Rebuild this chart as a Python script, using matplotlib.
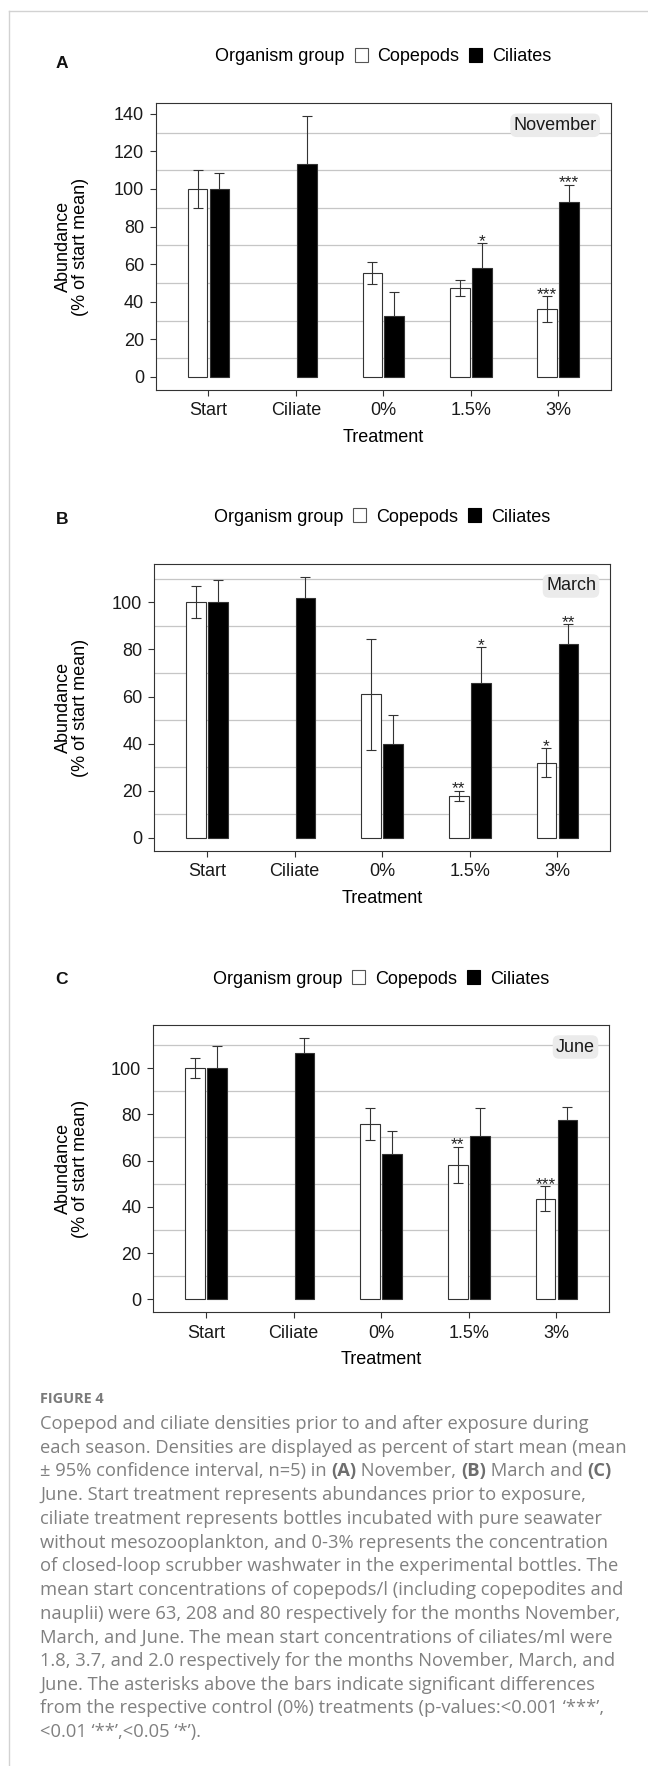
import numpy as np
import matplotlib
matplotlib.use("Agg")
import matplotlib.pyplot as plt
from matplotlib.patches import Patch
from matplotlib.lines import Line2D
from matplotlib.offsetbox import HPacker

# ---------------- data ----------------
treatments = ["Start", "Ciliate", "0%", "1.5%", "3%"]
groups = ["Copepods", "Ciliates"]
months = ["November", "March", "June"]
panel_tags = ["A", "B", "C"]

nan = np.nan
# November
cop_nov = [100.0, nan, 55.2, 47.4, 36.1]
cop_nov_ci = [10.3, nan, 5.8, 4.4, 6.7]
cil_nov = [100.0, 113.1, 32.5, 58.0, 92.8]
cil_nov_ci = [8.2, 25.5, 12.8, 13.1, 9.5]
cop_nov_sig = ["", "", "", "", "***"]
cil_nov_sig = ["", "", "", "*", "***"]
# March
cop_mar = [100.0, nan, 61.0, 17.7, 31.9]
cop_mar_ci = [6.7, nan, 23.6, 2.2, 6.1]
cil_mar = [100.0, 101.7, 39.8, 65.7, 82.4]
cil_mar_ci = [9.6, 9.0, 12.4, 15.2, 8.2]
cop_mar_sig = ["", "", "", "**", "*"]
cil_mar_sig = ["", "", "", "*", "**"]
# June
cop_jun = [100.0, nan, 75.7, 58.1, 43.5]
cop_jun_ci = [4.3, nan, 6.9, 7.9, 5.4]
cil_jun = [100.0, 106.6, 62.8, 70.8, 77.6]
cil_jun_ci = [9.5, 6.4, 10.0, 12.0, 5.7]
cop_jun_sig = ["", "", "", "**", "***"]
cil_jun_sig = ["", "", "", "", ""]

yticks_nov = [0, 20, 40, 60, 80, 100, 120, 140]
yticks_mar = [0, 20, 40, 60, 80, 100]
yticks_jun = [0, 20, 40, 60, 80, 100]

caption_title = "FIGURE 4"
caption_lines = [
    [("Copepod and ciliate densities prior to and after exposure during", "normal")],
    [("each season. Densities are displayed as percent of start mean (mean", "normal")],
    [("\u00b1 95% confidence interval, n=5) in ", "normal"), ("(A)", "bold"),
     (" November, ", "normal"), ("(B)", "bold"), (" March and ", "normal"), ("(C)", "bold")],
    [("June. Start treatment represents abundances prior to exposure,", "normal")],
    [("ciliate treatment represents bottles incubated with pure seawater", "normal")],
    [("without mesozooplankton, and 0-3% represents the concentration", "normal")],
    [("of closed-loop scrubber washwater in the experimental bottles. The", "normal")],
    [("mean start concentrations of copepods/l (including copepodites and", "normal")],
    [("nauplii) were 63, 208 and 80 respectively for the months November,", "normal")],
    [("March, and June. The mean start concentrations of ciliates/ml were", "normal")],
    [("1.8, 3.7, and 2.0 respectively for the months November, March, and", "normal")],
    [("June. The asterisks above the bars indicate significant differences", "normal")],
    [("from the respective control (0%) treatments (p-values:<0.001 \u2018***\u2019,", "normal")],
    [("<0.01 \u2018**\u2019,<0.05 \u2018*\u2019).", "normal")],
]

# ---------------- style / layout ----------------
plt.rcParams['font.family'] = ['Liberation Sans', 'DejaVu Sans']
W, H = 648, 1766
fig = plt.figure(figsize=(W / 100, H / 100), dpi=100)
renderer = fig.canvas.get_renderer()

def fx(px):
    return px / W

def fy(py):
    return 1 - py / H

DARK = "#333333"
GRID = "#c6c6c6"
FS = 13

panel_data = [
    (cop_nov, cop_nov_ci, cil_nov, cil_nov_ci, cop_nov_sig, cil_nov_sig, yticks_nov),
    (cop_mar, cop_mar_ci, cil_mar, cil_mar_ci, cop_mar_sig, cil_mar_sig, yticks_mar),
    (cop_jun, cop_jun_ci, cil_jun, cil_jun_ci, cop_jun_sig, cil_jun_sig, yticks_jun),
]
# axes rectangles in pixels: left, top, right, bottom
rects = [(156, 103.3, 610.7, 390.0), (154.3, 564.0, 610.0, 851.0), (153.3, 1025.0, 609.0, 1312.3)]
legend_y = [56.7, 517.0, 979.0]
tag_y = [63.0, 519.0, 979.5]

dodge = 0.125
bw = 0.225

for i, (cop, cop_ci, cil, cil_ci, cop_sig, cil_sig, yt) in enumerate(panel_data):
    l, t, r, b = rects[i]
    ax = fig.add_axes([fx(l), fy(b), (r - l) / W, (b - t) / H])
    cop = np.array(cop); cop_ci = np.array(cop_ci)
    cil = np.array(cil); cil_ci = np.array(cil_ci)
    x = np.arange(1, len(treatments) + 1)

    top = max(np.nanmax(cop + cop_ci), np.nanmax(cil + cil_ci))
    ax.set_ylim(-0.05 * top, 1.05 * top)
    ax.set_xlim(0.4, len(treatments) + 0.6)

    # grid on minor ticks only
    ax.set_yticks(yt)
    ax.set_yticks(np.arange(10, 1.05 * top, 20), minor=True)
    ax.grid(which='minor', axis='y', color=GRID, lw=0.9, zorder=0)
    ax.grid(which='major', visible=False)
    ax.set_axisbelow(True)
    ax.set_xticks(x)
    ax.set_xticklabels(treatments)

    mc = ~np.isnan(cop)
    ax.bar(x[mc] - dodge, cop[mc], width=bw, color='white', edgecolor=DARK,
           linewidth=0.8, zorder=2, label=groups[0])
    ax.errorbar(x[mc] - dodge, cop[mc], yerr=cop_ci[mc], fmt='none', ecolor=DARK,
                elinewidth=0.8, capsize=3.6, capthick=0.8, zorder=3)
    ax.bar(x + dodge, cil, width=bw, color='black', edgecolor=DARK,
           linewidth=0.8, zorder=2, label=groups[1])
    ax.errorbar(x + dodge, cil, yerr=cil_ci, fmt='none', ecolor=DARK,
                elinewidth=0.8, capsize=3.6, capthick=0.8, zorder=1.5)

    for j in range(len(treatments)):
        if cop_sig[j]:
            ax.annotate(cop_sig[j], xy=(x[j] - dodge, cop[j] + cop_ci[j]), xytext=(0, -1.8),
                        textcoords='offset points', ha='center', va='baseline',
                        fontsize=12.5, color='#222222', zorder=4)
        if cil_sig[j]:
            ax.annotate(cil_sig[j], xy=(x[j] + dodge, cil[j] + cil_ci[j]), xytext=(0, -1.8),
                        textcoords='offset points', ha='center', va='baseline',
                        fontsize=12.5, color='#222222', zorder=4)

    for s in ax.spines.values():
        s.set_color(DARK)
        s.set_linewidth(0.8)
    ax.tick_params(axis='both', which='major', length=4.3, width=0.8, color=DARK,
                   labelsize=FS, labelcolor='#1a1a1a')
    ax.tick_params(axis='y', which='major', pad=4.3)
    ax.tick_params(axis='x', which='major', pad=4.5)
    ax.tick_params(which='minor', left=False, bottom=False)

    ax.set_xlabel("Treatment", fontsize=FS, va='center')
    ax.xaxis.set_label_coords(0.5, -47.5 / (b - t))
    ax.set_ylabel("Abundance\n(% of start mean)", fontsize=FS, va='center',
                  ha='center', linespacing=1.0)
    ax.yaxis.set_label_coords((72 - l) / (r - l), 0.5)

    ax.annotate(months[i], xy=(1, 1), xycoords='axes fraction', xytext=(-14, -22),
                textcoords='offset pixels', ha='right', va='center', fontsize=FS,
                color='#1a1a1a', zorder=5,
                bbox=dict(boxstyle='round,pad=0.18,rounding_size=0.35', fc='#ebebeb', ec='none'))

    handles = [Patch(facecolor='white', edgecolor='#555555', linewidth=0.8),
               Patch(facecolor='black', edgecolor='black', linewidth=0.8)]
    leg = ax.legend(handles, groups, title="Organism group", ncol=2, loc='center',
                    bbox_to_anchor=(fx((l + r) / 2), fy(legend_y[i])),
                    bbox_transform=fig.transFigure, frameon=False, fontsize=FS,
                    title_fontsize=FS, handlelength=0.72, handleheight=0.78,
                    handletextpad=0.54, columnspacing=0.55, borderpad=0,
                    borderaxespad=0)
    vbox = leg._legend_box
    hb = HPacker(pad=0, sep=7.2, align='baseline',
                 children=[leg._legend_title_box, leg._legend_handle_box])
    vbox._children = [hb]

    fig.text(fx(62), fy(tag_y[i]), panel_tags[i], fontsize=12.5, fontweight='bold',
             ha='center', va='center', color='#111111')

# ---------------- frame lines ----------------
FRAME = "#d2d2d2"
fig.add_artist(Line2D([fx(9), fx(9)], [0, fy(11)], color=FRAME, lw=1.0, transform=fig.transFigure))
fig.add_artist(Line2D([fx(9), 1], [fy(11), fy(11)], color=FRAME, lw=1.0, transform=fig.transFigure))

# ---------------- caption ----------------
CAP_FAMILY = ['Open Sans', 'DejaVu Sans']
CAP_COLOR = '#808080'

def run_width(txt, fs, wt):
    a = fig.text(0, 0, "." + txt + ".", fontsize=fs, fontweight=wt, family=CAP_FAMILY)
    bwid = fig.text(0, 0, "..", fontsize=fs, fontweight=wt, family=CAP_FAMILY)
    w = a.get_window_extent(renderer).width - bwid.get_window_extent(renderer).width
    a.remove(); bwid.remove()
    return w

# fit caption size to reference line width
ref_line = caption_lines[7][0][0]
w10 = run_width(ref_line, 10, 'normal')
cap_fs = 10 * 581.7 / w10

wt10 = run_width(caption_title, 10, 'bold')
title_fs = 10 * 64.0 / wt10
fig.text(fx(40), fy(1403.3), caption_title, fontsize=title_fs, fontweight='bold',
         family=CAP_FAMILY, color='#7a7a7a', ha='left', va='baseline')

base0 = 1429.0
step = 23.7
for k, runs in enumerate(caption_lines):
    xpos = 40.0
    yb = base0 + k * step
    for txt, wt in runs:
        fig.text(fx(xpos), fy(yb), txt, fontsize=cap_fs, fontweight=wt, family=CAP_FAMILY,
                 color=CAP_COLOR if wt == 'normal' else '#6e6e6e', ha='left', va='baseline')
        xpos += run_width(txt, cap_fs, wt)

fig.savefig("out.png", dpi=100)
